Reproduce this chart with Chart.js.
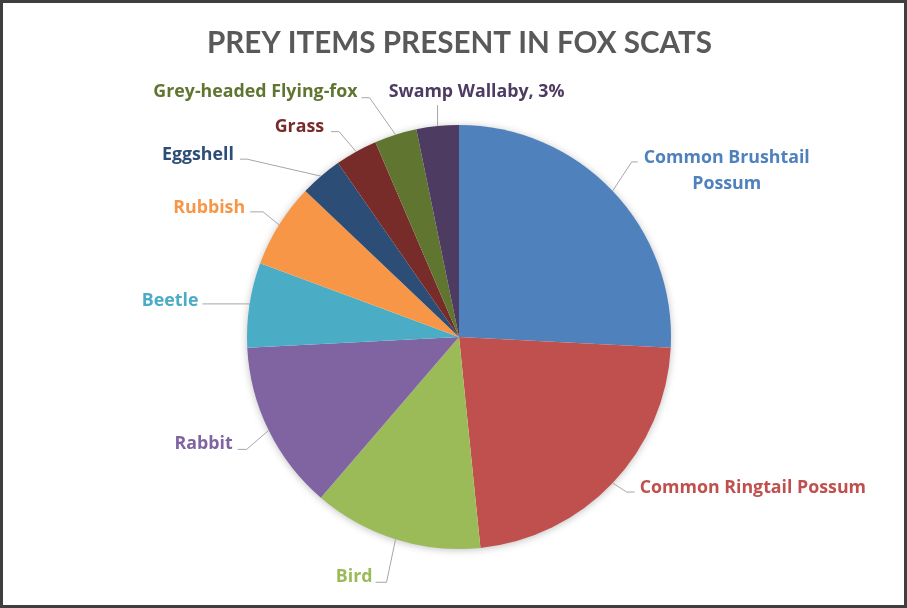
<!DOCTYPE html>
<html>
<head>
<meta charset="utf-8">
<script src="https://cdn.jsdelivr.net/npm/chart.js@4/dist/chart.umd.min.js"></script>
<style>
  html, body { margin: 0; padding: 0; background: #fff; }
  canvas { display: block; }
</style>
</head>
<body>
<canvas id="foxChart" width="907" height="608"></canvas>
<script>
// prey items found in fox scats (number of scats, 31 in total)
const preyItems = ['Common Brushtail Possum', 'Common Ringtail Possum', 'Bird', 'Rabbit', 'Beetle',
  'Rubbish', 'Eggshell', 'Grass', 'Grey-headed Flying-fox', 'Swamp Wallaby'];
const scatCounts = [8, 7, 4, 4, 2, 2, 1, 1, 1, 1];
const sliceColors = ['#4F81BD', '#C0504D', '#9BBB59', '#8064A2', '#4BACC6',
  '#F79646', '#2C4D75', '#772C2A', '#5F7530', '#4D3B62'];

// where each data label sits relative to its slice (leader elbow, tail, text offset)
const labelLayout = [
  { dx: 19, dy: -29, tail: 6, tx: 6, ty: 1, align: 'left', lines: ['Common Brushtail', 'Possum'] },
  { dx: 14, dy: 9, tail: 8, tx: 5, ty: 1, align: 'left' },
  { dx: -9, dy: 43, tail: -11, tx: -3, ty: 0, align: 'right' },
  { dx: -22, dy: 19, tail: -9, tx: -5, ty: 0, align: 'right' },
  { dx: 0, dy: -1, tail: -47, tx: -4, ty: 2, align: 'right' },
  { dx: -16, dy: -13, tail: -13, tx: -5, ty: 1, align: 'right' },
  { dx: -74, dy: -17, tail: -7, tx: -6, ty: 1, align: 'right' },
  { dx: -17, dy: -20, tail: -8, tx: -7, ty: 0, align: 'right' },
  { dx: -26, dy: -37, tail: -8, tx: -4, ty: -1, align: 'right' },
  { dx: 0, dy: -21, tail: 0, tx: 39, ty: -8, align: 'center', showPct: true }
];

const total = scatCounts.reduce((a, b) => a + b, 0);

const pieExtras = {
  id: 'pieExtras',
  beforeDatasetsDraw(chart) {
    // soft shadow under the pie
    const arc = chart.getDatasetMeta(0).data[0];
    const ctx = chart.ctx;
    ctx.save();
    ctx.beginPath();
    ctx.arc(arc.x, arc.y, arc.outerRadius - 1, 0, Math.PI * 2);
    ctx.shadowColor = 'rgba(0,0,0,0.3)';
    ctx.shadowBlur = 8;
    ctx.shadowOffsetY = 1;
    ctx.fillStyle = '#fff';
    ctx.fill();
    ctx.restore();
  },
  afterDraw(chart) {
    const ctx = chart.ctx;
    const w = chart.width, h = chart.height;
    ctx.save();

    // title
    ctx.fillStyle = '#595959';
    ctx.font = 'bold 30px Lato';
    ctx.textAlign = 'center';
    ctx.textBaseline = 'alphabetic';
    ctx.fillText('PREY ITEMS PRESENT IN FOX SCATS', 459.5, 53, 505);

    // data labels with leader lines
    const meta = chart.getDatasetMeta(0);
    meta.data.forEach((arc, i) => {
      const lay = labelLayout[i];
      const mid = (arc.startAngle + arc.endAngle) / 2;
      const ax = arc.x + arc.outerRadius * Math.cos(mid);
      const ay = arc.y + arc.outerRadius * Math.sin(mid);
      const ex = ax + lay.dx, ey = ay + lay.dy;
      const endX = ex + lay.tail;

      ctx.strokeStyle = '#A6A6A6';
      ctx.lineWidth = 1;
      ctx.beginPath();
      ctx.moveTo(ax, ay);
      ctx.lineTo(ex, ey);
      ctx.lineTo(endX, ey);
      ctx.stroke();

      let lines = lay.lines || [preyItems[i]];
      if (lay.showPct) {
        lines = [preyItems[i] + ', ' + Math.round(scatCounts[i] / total * 100) + '%'];
      }
      ctx.fillStyle = sliceColors[i];
      ctx.font = 'bold 17.8px "Open Sans"';
      ctx.textBaseline = 'alphabetic';
      if (lines.length > 1) {
        const bw = Math.max(...lines.map(t => ctx.measureText(t).width));
        ctx.textAlign = 'center';
        lines.forEach((t, k) => {
          ctx.fillText(t, endX + lay.tx + bw / 2, ey + lay.ty + k * 26);
        });
      } else {
        ctx.textAlign = lay.align;
        ctx.fillText(lines[0], endX + lay.tx, ey + lay.ty);
      }
    });

    // outer frame
    ctx.strokeStyle = '#3f3f3f';
    ctx.lineWidth = 3;
    ctx.strokeRect(1.5, 1.5, w - 3, h - 3);
    ctx.restore();
  }
};

new Chart(document.getElementById('foxChart'), {
  type: 'pie',
  data: {
    labels: preyItems,
    datasets: [{
      data: scatCounts,
      backgroundColor: sliceColors,
      borderWidth: 0
    }]
  },
  options: {
    responsive: false,
    animation: false,
    layout: { padding: { top: 125, bottom: 59, left: 11, right: 0 } },
    plugins: {
      legend: { display: false },
      title: { display: false },
      tooltip: { enabled: false }
    }
  },
  plugins: [pieExtras]
});
</script>
</body>
</html>
